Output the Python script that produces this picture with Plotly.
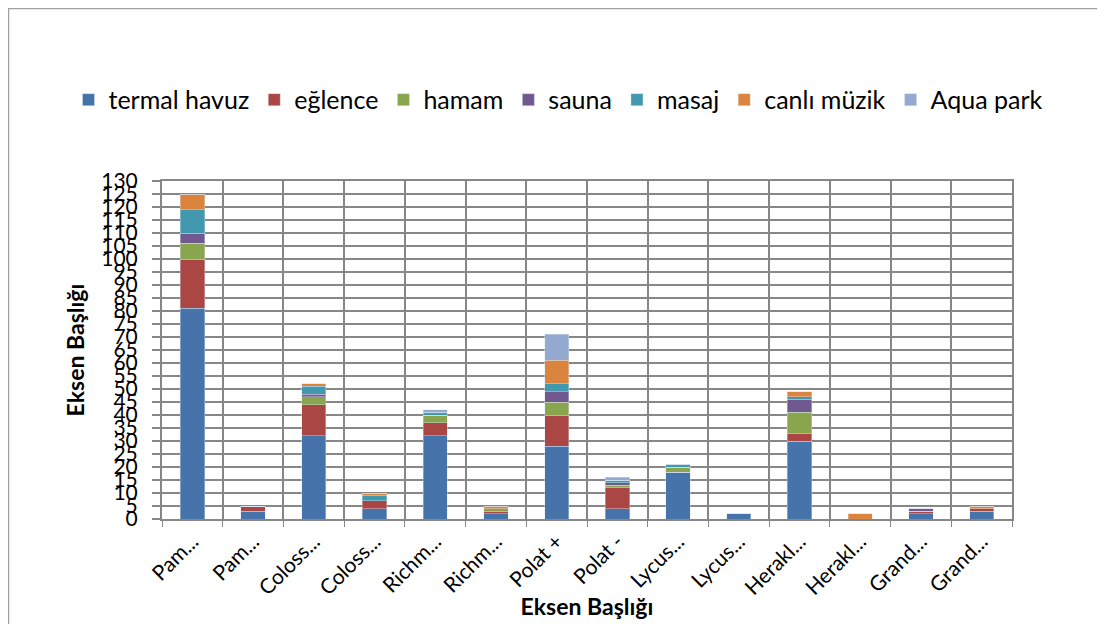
import plotly.graph_objects as go

# categories on the x axis (truncated, as in the source sheet)
categories = ["Pam...", "Pam...", "Coloss...", "Coloss...", "Richm...", "Richm...",
              "Polat +", "Polat -", "Lycus...", "Lycus...", "Herakl...", "Herakl...",
              "Grand...", "Grand..."]

termal_havuz = [81, 3, 32, 4, 32, 2, 28, 4, 18, 2, 30, 0, 2, 3]
eglence      = [19, 2, 12, 3, 5, 1, 12, 8, 0, 0, 3, 0, 1, 1]
hamam        = [6, 0, 3, 0, 3, 1, 5, 1, 2, 0, 8, 0, 0, 0]
sauna        = [4, 0, 1, 0, 0, 0, 4, 1, 0, 0, 5, 0, 1, 0]
masaj        = [9, 0, 3, 2, 1, 0, 3, 1, 1, 0, 1, 0, 0, 0]
canli_muzik  = [6, 0, 1, 1, 0, 1, 9, 0, 0, 0, 2, 2, 0, 1]
aqua_park    = [0, 0, 0, 0, 1, 0, 10, 1, 0, 0, 0, 0, 0, 0]

y_ticks = list(range(0, 131, 5))

series = [
    ("termal havuz", termal_havuz, "#4674AA"),
    ("eğlence", eglence, "#AA4643"),
    ("hamam", hamam, "#89A54E"),
    ("sauna", sauna, "#71588F"),
    ("masaj", masaj, "#4198AF"),
    ("canlı müzik", canli_muzik, "#DB843D"),
    ("Aqua park", aqua_park, "#93A9CF"),
]

FONT = "Lato, 'Open Sans', sans-serif"
GRID = "#878787"

x_pos = list(range(len(categories)))

fig = go.Figure()
for name, vals, color in series:
    fig.add_trace(go.Bar(
        x=x_pos, y=vals, name=name,
        marker=dict(color=color, line=dict(color="rgba(220,230,242,0.8)", width=0.5)),
        width=0.4,
    ))

fig.update_layout(
    barmode="stack",
    width=1105, height=624,
    paper_bgcolor="white", plot_bgcolor="white",
    margin=dict(l=154, r=101, t=173, b=113, autoexpand=False),
    font=dict(family=FONT, color="black"),
    showlegend=True,
    legend=dict(
        orientation="h", x=-0.11, xanchor="left",
        y=1.24, yanchor="middle",
        font=dict(size=25, family=FONT), traceorder="normal",
        itemwidth=30, bgcolor="rgba(0,0,0,0)",
    ),
)

fig.update_xaxes(
    range=[-0.5, len(categories) - 0.5],
    tickmode="array", tickvals=x_pos, ticktext=categories,
    tickangle=-45, tickfont=dict(size=21, family=FONT),
    showgrid=False, ticks="",
    minor=dict(tick0=0.5, dtick=1, showgrid=True, gridcolor=GRID, gridwidth=2,
               ticks="outside", ticklen=6, tickcolor=GRID),
    showline=True, linecolor=GRID, linewidth=2, mirror=True,
    zeroline=False,
    title=dict(text="<b>Eksen Başlığı</b>", font=dict(size=23, family=FONT), standoff=0),
)

fig.update_yaxes(
    range=[0, 130],
    tickmode="array", tickvals=y_ticks,
    tickfont=dict(size=21, family=FONT),
    showgrid=True, gridcolor=GRID, gridwidth=2,
    ticks="outside", ticklen=8, tickcolor=GRID, tickwidth=2,
    ticklabelstandoff=10,
    showline=True, linecolor=GRID, linewidth=2, mirror=True,
    zeroline=False,
    title=dict(text="<b>Eksen Başlığı</b>", font=dict(size=23, family=FONT), standoff=10),
)

# chart area frame (runs off the visible page on the right and bottom)
fig.add_shape(type="rect", xref="paper", yref="paper",
              x0=-0.1806, x1=1.2, y0=-0.4, y1=1.510,
              line=dict(color="#A0A0A0", width=1.5), fillcolor="rgba(0,0,0,0)",
              layer="below")

fig.write_html("out.html")
